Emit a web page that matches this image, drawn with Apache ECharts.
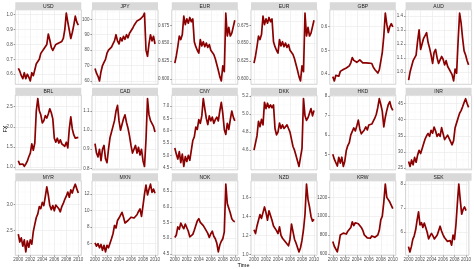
<!DOCTYPE html>
<html><head><meta charset="utf-8">
<script src="https://cdn.jsdelivr.net/npm/echarts@6/dist/echarts.min.js"></script>
<style>html,body{margin:0;padding:0;background:#fff}#c{width:474px;height:269px}</style>
</head><body><div id="c"></div>
<script>
// ---- data ----
const times = [2000,2000.25,2000.5,2000.75,2001,2001.25,2001.5,2001.75,2002,2002.25,2002.5,2002.75,2003,2003.25,2003.5,2003.75,2004,2004.25,2004.5,2004.75,2005,2005.25,2005.5,2005.75,2006,2006.25,2006.5,2006.75,2007,2007.25,2007.5,2007.75,2008,2008.25,2008.5,2008.75,2009,2009.25,2009.5,2009.75,2010];
const xTickLabels = ['2000','2002','2004','2006','2008','2010'];

const USD = [0.64,0.62,0.59,0.57,0.61,0.57,0.60,0.58,0.555,0.61,0.59,0.60,0.67,0.66,0.70,0.74,0.73,0.77,0.76,0.80,0.87,0.83,0.78,0.76,0.78,0.80,0.79,0.81,0.80,0.82,0.84,0.90,1.01,0.95,0.96,0.84,0.88,0.93,0.99,0.95,0.93];
const JPY = [68,65,63,60,66,70,72,74,78,80,80,82,84,86,90,86,84,88,86,89,87,90,88,91,92,94,96,97,99,98,100,101,102,104,80,76,84,90,86,89,84];
const EUR = [0.622,0.632,0.645,0.660,0.655,0.662,0.688,0.676,0.684,0.678,0.686,0.680,0.684,0.652,0.645,0.640,0.636,0.655,0.646,0.652,0.645,0.650,0.644,0.648,0.640,0.642,0.634,0.628,0.620,0.612,0.603,0.597,0.618,0.610,0.692,0.660,0.672,0.660,0.664,0.662,0.682];
const GBP = [0.390,0.372,0.395,0.400,0.392,0.412,0.408,0.420,0.414,0.426,0.420,0.435,0.448,0.470,0.458,0.452,0.450,0.456,0.460,0.452,0.448,0.446,0.448,0.446,0.447,0.443,0.445,0.430,0.420,0.412,0.405,0.418,0.455,0.492,0.560,0.656,0.610,0.575,0.600,0.612,0.598];
const AUD = [0.94,1.00,1.04,1.08,1.07,1.12,1.22,1.30,1.16,1.15,1.24,1.26,1.28,1.21,1.17,1.12,1.06,1.14,1.16,1.10,1.06,1.07,1.11,1.09,1.05,1.08,1.04,1.03,1.00,0.98,0.935,1.02,0.99,1.22,1.42,1.35,1.24,1.15,1.12,1.08,1.05];
const BRL = [1.16,1.07,1.05,1.08,1.02,1.08,1.15,1.26,1.35,1.58,1.42,1.60,2.40,2.70,2.40,2.30,2.10,2.15,2.28,2.22,2.32,2.45,2.35,2.20,1.72,1.62,1.72,1.60,1.68,1.58,1.62,1.52,1.62,1.48,1.95,2.25,1.95,1.80,1.72,1.70,1.74];
const CAD = [0.93,0.88,0.86,0.90,0.84,0.90,0.92,0.85,0.83,0.90,0.96,0.99,1.02,1.05,1.10,1.13,1.05,1.00,1.03,1.06,1.08,1.04,1.01,0.97,0.92,0.88,0.90,0.92,0.88,0.91,0.87,0.90,0.84,0.81,0.95,1.165,1.08,1.05,1.06,1.02,0.99];
const CNY = [5.30,5.05,4.85,5.15,4.70,5.05,4.55,4.95,4.75,5.00,4.80,5.20,5.60,5.75,6.15,6.05,6.45,6.30,6.60,7.30,6.90,6.50,6.25,6.60,6.40,6.55,6.30,6.45,6.55,6.40,6.80,7.15,6.70,6.05,5.85,6.30,6.05,6.45,6.80,6.55,6.40];
const DKK = [4.60,4.62,4.76,4.92,4.86,4.94,4.88,5.13,5.06,5.12,5.07,5.10,5.07,5.10,4.84,4.77,4.80,4.90,4.84,4.88,4.84,4.86,4.88,4.84,4.80,4.72,4.64,4.60,4.54,4.48,4.42,4.52,4.62,5.17,4.98,4.93,4.96,4.94,5.06,4.98,5.04];
const HKD = [5.00,4.75,4.85,4.40,4.85,4.55,4.85,4.38,4.65,5.20,5.45,5.60,6.00,5.90,6.35,6.20,6.45,6.75,6.30,6.05,5.95,6.25,6.40,6.25,6.50,6.40,6.55,6.65,6.85,7.05,7.40,7.85,7.55,7.20,6.40,6.90,7.25,7.55,7.70,7.40,7.25];
const INR = [27.0,25.5,27.5,26.0,28.3,26.8,29.0,30.5,29.5,31.0,32.5,34.0,35.0,35.7,34.8,36.7,35.8,37.7,36.5,34.8,35.6,34.8,37.5,37.0,33.8,34.2,35.2,34.2,33.2,32.2,33.5,37.5,39.0,40.5,42.0,42.8,44.0,45.3,46.5,45.0,43.8];
const MYR = [2.43,2.28,2.36,2.20,2.32,2.09,2.30,2.18,2.32,2.24,2.48,2.62,2.75,2.82,2.96,2.92,3.04,2.98,3.15,3.34,3.18,2.98,2.90,2.98,2.88,2.99,2.96,2.92,2.86,2.96,3.02,3.10,3.16,3.24,3.14,3.28,3.22,3.32,3.39,3.30,3.22];
const MXN = [6.1,5.7,6.0,5.5,5.9,5.2,5.8,5.0,5.8,5.5,5.7,6.6,7.2,8.2,7.9,8.8,9.1,9.3,9.8,9.2,8.5,8.4,8.8,8.6,9.2,9.0,9.1,9.3,9.5,9.9,10.2,9.3,10.6,12.0,13.1,11.9,12.6,13.2,12.2,12.6,12.1];
const NOK = [5.02,5.10,5.36,5.28,5.48,5.38,5.30,5.45,5.40,5.22,5.04,4.98,5.12,5.25,5.40,5.55,5.62,5.50,5.48,5.40,5.32,5.28,5.15,5.02,5.14,5.22,5.06,4.98,4.84,4.56,4.78,4.90,4.98,5.20,6.72,6.10,5.95,5.80,5.62,5.55,5.52];
const NZD = [1.26,1.22,1.30,1.36,1.42,1.38,1.44,1.50,1.44,1.36,1.46,1.44,1.36,1.30,1.32,1.25,1.22,1.29,1.20,1.17,1.15,1.13,1.12,1.09,1.16,1.32,1.24,1.16,1.12,1.13,1.026,1.07,1.15,1.26,1.42,1.74,1.58,1.50,1.40,1.35,1.37];
const KRW = [730,680,660,620,700,800,780,820,830,810,840,860,880,940,900,930,950,920,930,880,850,800,790,770,780,765,790,770,775,770,800,850,960,1000,1150,1340,1200,1180,1150,1160,1080];
const SEK = [5.40,5.18,5.40,5.70,5.85,6.10,6.50,6.85,6.30,6.40,6.20,6.38,6.20,6.00,5.72,5.85,5.95,5.85,5.72,5.80,5.88,5.95,6.25,6.05,5.90,5.78,5.70,5.62,5.58,5.65,5.46,5.88,5.70,6.30,7.20,8.00,7.35,6.75,6.95,7.05,6.90];

const ticksUSD = ['0.6','0.7','0.8','0.9','1.0'];
const ticksJPY = ['60','70','80','90','100'];
const ticksEUR = ['0.600','0.625','0.650','0.675'];
const ticksGBP = ['0.4','0.5','0.6'];
const ticksAUD = ['1.0','1.1','1.2','1.3','1.4'];
const ticksBRL = ['1.0','1.5','2.0','2.5'];
const ticksCAD = ['0.8','0.9','1.0','1.1'];
const ticksCNY = ['4.5','5.0','5.5','6.0','6.5','7.0'];
const ticksDKK = ['4.6','4.8','5.0','5.2'];
const ticksHKD = ['5','6','7','8'];
const ticksINR = ['25','30','35','40','45'];
const ticksMYR = ['2.5','3.0'];
const ticksMXN = ['6','8','10','12'];
const ticksNOK = ['4.5','5.0','5.5','6.0','6.5'];
const ticksNZD = ['1.0','1.2','1.4','1.6'];
const ticksKRW = ['600','800','1000','1200'];
const ticksSEK = ['6','7','8'];

const panelNames = ['USD','JPY','EUR','EUR','GBP','AUD','BRL','CAD','CNY','DKK','HKD','INR','MYR','MXN','NOK','NZD','KRW','SEK'];
const panelValues = [USD,JPY,EUR,EUR,GBP,AUD,BRL,CAD,CNY,DKK,HKD,INR,MYR,MXN,NOK,NZD,KRW,SEK];
const panelTicks = [ticksUSD,ticksJPY,ticksEUR,ticksEUR,ticksGBP,ticksAUD,ticksBRL,ticksCAD,ticksCNY,ticksDKK,ticksHKD,ticksINR,ticksMYR,ticksMXN,ticksNOK,ticksNZD,ticksKRW,ticksSEK];

// ---- layout ----
const colLeft = [15.3, 92, 171.8, 251, 329.8, 405.6];
const panelW = 66;
const stripTop = [2.2, 87.7, 173.2];
const stripH = 7.6;
const panelH = 74.5;
const FONT = 'Liberation Sans, Arial, sans-serif';
const xTickVals = xTickLabels.map(Number);
const xMinor = [2001,2003,2005,2007,2009];

const grids=[], xAxes=[], yAxes=[], series=[], graphics=[];
panelNames.forEach((name,i)=>{
  const r=Math.floor(i/6), c=i%6;
  const vals = panelValues[i];
  const tLab = panelTicks[i];
  const tVal = tLab.map(Number);
  const vmin=Math.min(...vals), vmax=Math.max(...vals), pad=(vmax-vmin)*0.05;
  const lo=vmin-pad, hi=vmax+pad;
  const top = stripTop[r]+stripH;
  const bottomRow = r===2;
  grids.push({left:colLeft[c], top:top, width:panelW, height:panelH, show:true,
    backgroundColor:'#ffffff', borderColor:'#b5b5b5', borderWidth:0.6});
  xAxes.push({type:'value', gridIndex:i, min:1999.5, max:2010.5,
    splitLine:{show:false}, axisLine:{show:false},
    axisTick:{show:bottomRow, customValues:xTickVals, length:1.6, lineStyle:{color:'#333333', width:0.5}},
    axisLabel:{show:bottomRow, customValues:xTickVals, fontSize:4.5, fontFamily:FONT, color:'#4d4d4d', margin:2.4,
      formatter:v=>{const k=xTickVals.findIndex(t=>Math.abs(t-v)<1e-6); return k>=0?xTickLabels[k]:'';}}});
  yAxes.push({type:'value', gridIndex:i, min:lo, max:hi,
    splitLine:{show:false}, axisLine:{show:false},
    axisTick:{show:true, customValues:tVal, length:1.6, lineStyle:{color:'#333333', width:0.5}},
    axisLabel:{show:true, customValues:tVal, fontSize:4.5, fontFamily:FONT, color:'#4d4d4d', margin:2.6,
      formatter:v=>{const k=tVal.findIndex(t=>Math.abs(t-v)<1e-9); return k>=0?tLab[k]:'';}}});
  const step = tVal[1]-tVal[0];
  const yMinor=[];
  for(let k=-1;k<tVal.length;k++){
    const m = (k<0? tVal[0]-step/2 : tVal[k]+step/2);
    if(m>lo && m<hi) yMinor.push(m);
  }
  const gl=[];
  const maj={color:'#ebebeb', width:0.7, type:'solid'}, mn={color:'#f3f3f3', width:0.4, type:'solid'};
  xMinor.forEach(v=>gl.push({xAxis:v, lineStyle:mn}));
  yMinor.forEach(v=>gl.push({yAxis:v, lineStyle:mn}));
  xTickVals.forEach(v=>gl.push({xAxis:v, lineStyle:maj}));
  tVal.forEach(v=>{ if(v>=lo && v<=hi) gl.push({yAxis:v, lineStyle:maj}); });
  const pts = times.map((t,k)=>[t, vals[k]]);
  series.push({type:'line', xAxisIndex:i, yAxisIndex:i, data:pts, symbol:'none', silent:true, z:1,
    lineStyle:{opacity:0}, animation:false,
    markLine:{silent:true, symbol:['none','none'], label:{show:false}, animation:false, z:1, data:gl}});
  series.push({type:'line', xAxisIndex:i, yAxisIndex:i, data:pts, symbol:'none', silent:true, z:3,
    lineStyle:{color:'#8b0000', width:1.7, join:'round'}, animation:false, emphasis:{disabled:true}});
  graphics.push({type:'rect', shape:{x:colLeft[c], y:stripTop[r], width:panelW, height:stripH},
    style:{fill:'#d9d9d9'}, silent:true});
  graphics.push({type:'text', x:colLeft[c]+panelW/2, y:stripTop[r]+stripH/2+0.2,
    style:{text:name, fill:'#1a1a1a', font:'5px '+FONT, textAlign:'center', textVerticalAlign:'middle', align:'center', verticalAlign:'middle'}, silent:true});
});
graphics.push({type:'text', x:5.5, y:129, rotation:Math.PI/2,
  style:{text:'FX', fill:'#000000', font:'5.5px '+FONT, textAlign:'center', textVerticalAlign:'middle', align:'center', verticalAlign:'middle'}, silent:true});
graphics.push({type:'text', x:243.5, y:265,
  style:{text:'Time', fill:'#000000', font:'5.5px '+FONT, textAlign:'center', textVerticalAlign:'middle', align:'center', verticalAlign:'middle'}, silent:true});

const chart = echarts.init(document.getElementById('c'), null, {renderer:'canvas'});
chart.setOption({animation:false, backgroundColor:'#ffffff', grid:grids, xAxis:xAxes, yAxis:yAxes, series:series, graphic:graphics});
</script></body></html>
